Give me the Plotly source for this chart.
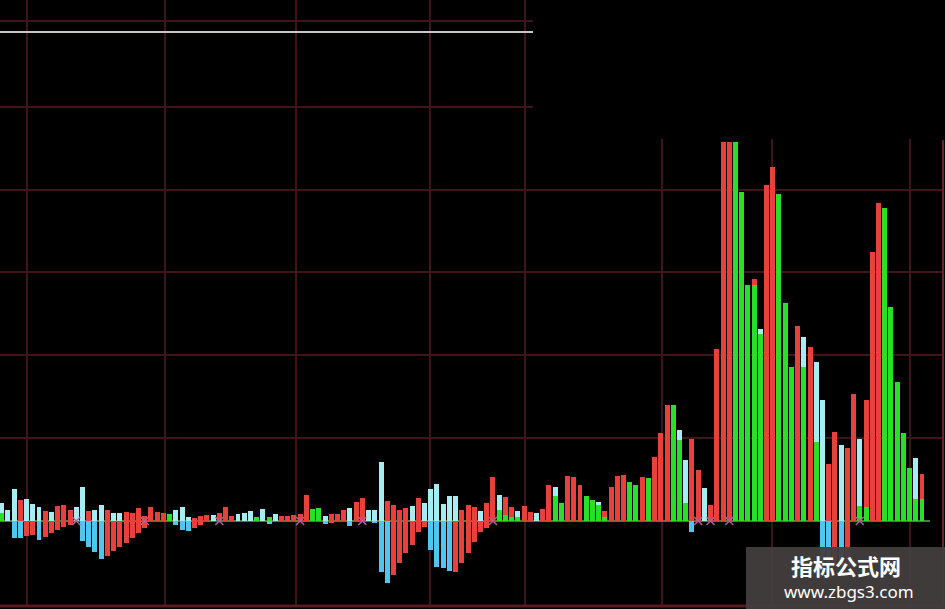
import plotly.graph_objects as go

# ---- data (bar heights, arbitrary units; 0 = none) ----
up_vals = [18, 11, 32, 21, 22, 17, 14, 10, 9, 15, 16, 11, 14, 34, 10, 11, 16, 11, 8, 8,
           9, 8, 13, 5, 14, 9, 8, 0, 11, 14, 4, 3, 5, 6, 6, 8, 14, 5, 7, 8,
           10, 0, 12, 0, 7, 5, 5, 6, 7, 26, 0, 0, 5, 7, 7, 11, 13, 19, 23, 11,
           11, 59, 20, 16, 11, 13, 15, 23, 18, 32, 37, 17, 25, 25, 11, 16, 14, 10, 18, 44,
           26, 24, 14, 10, 15, 9, 8, 12, 36, 34, 0, 45, 44, 36, 0, 0, 19, 10, 34, 45,
           46, 0, 0, 44, 0, 64, 88, 116, 0, 91, 61, 82, 51, 33, 16, 172, 379, 379, 0, 0,
           0, 242, 192, 336, 354, 0, 0, 0, 195, 184, 174, 159, 121, 57, 89, 76, 73, 127, 82, 121,
           269, 318, 0, 0, 0, 0, 0, 63, 47]
up_cyan = {0, 1, 2, 4, 5, 6, 8, 12, 13, 15, 16, 18, 19, 28, 29, 30, 34, 38, 39, 40, 42, 44,
           52, 56, 59, 60, 61, 66, 68, 69, 70, 71, 72, 73, 77, 80, 83, 86, 89, 96, 109, 110,
           113, 122, 129, 131, 132, 135, 138, 147}
green_vals = [8, 0, 0, 0, 0, 0, 0, 0, 0, 0, 0, 0, 0, 0, 0, 0, 0, 0, 0, 0,
              0, 0, 0, 0, 0, 0, 0, 7, 0, 0, 0, 0, 0, 0, 0, 0, 0, 0, 0, 0,
              0, 4, 0, 4, 0, 0, 0, 0, 0, 0, 12, 13, 0, 0, 0, 0, 0, 0, 0, 0,
              0, 0, 0, 0, 0, 0, 0, 0, 0, 0, 0, 0, 0, 0, 0, 0, 0, 0, 0, 0,
              11, 6, 4, 4, 0, 0, 0, 0, 0, 25, 18, 0, 0, 0, 25, 21, 16, 4, 0, 0,
              0, 39, 36, 0, 43, 0, 0, 0, 116, 81, 18, 0, 0, 0, 0, 0, 0, 0, 379, 329,
              236, 236, 187, 0, 0, 327, 218, 154, 0, 154, 0, 79, 0, 0, 0, 0, 0, 0, 15, 14,
              0, 0, 313, 214, 139, 88, 53, 22, 22]
down_vals = {2: 17, 3: 17, 4: 15, 5: 14, 6: 19, 7: 16, 8: 12, 9: 9, 10: 6, 11: 4,
             13: 20, 14: 26, 15: 31, 16: 38, 17: 35, 18: 30, 19: 26, 20: 22, 21: 17, 22: 12, 23: 7,
             28: 4, 29: 9, 30: 10, 31: 7, 32: 4, 43: 3, 52: 3, 53: 2, 56: 5, 60: 2,
             61: 51, 62: 62, 63: 54, 64: 42, 65: 32, 66: 24, 67: 11, 68: 6,
             69: 29, 70: 46, 71: 47, 72: 50, 73: 51, 74: 42, 75: 32, 76: 21, 77: 11, 78: 7,
             111: 11, 132: 45, 133: 45, 134: 45, 135: 45, 136: 45}
down_cyan = {2, 3, 6, 13, 14, 15, 16, 28, 29, 30, 43, 52, 56, 60, 61, 62, 69, 70, 71, 72,
             111, 132, 133, 135}
cross_idx = [12, 23, 35, 48, 58, 79, 112, 114, 117, 138]
hgrid_vals = [83, 166, 249, 331, 414, 500]

N = len(up_vals)
idx = list(range(N))

RED = "#e8403a"
CYAN_UP = "#a6ecf3"
CYAN_DN = "#4ec6f0"
GREEN = "#27e027"

up_colors = [CYAN_UP if i in up_cyan else RED for i in idx]
dn_y = [-down_vals.get(i, 0) for i in idx]
dn_colors = [CYAN_DN if i in down_cyan else RED for i in idx]

fig = go.Figure()
fig.add_bar(x=idx, y=up_vals, marker=dict(color=up_colors, line=dict(width=0)), width=0.8)
fig.add_bar(x=idx, y=green_vals, marker=dict(color=GREEN, line=dict(width=0)), width=0.8)
fig.add_bar(x=idx, y=dn_y, marker=dict(color=dn_colors, line=dict(width=0)), width=0.8)
fig.add_scatter(x=cross_idx, y=[0] * len(cross_idx), mode="markers",
                marker=dict(symbol="x-thin", size=8, line=dict(color="#b0609c", width=1.5)))

W, H = 945, 609
GRID = "#3e1519"
shapes = []
for v in hgrid_vals:
    shapes.append(dict(type="line", xref="paper", yref="y", x0=0, x1=943 / W, y0=v, y1=v,
                       line=dict(color=GRID, width=2), layer="below"))
for px in [27, 165, 296, 430, 525, 662, 772, 910]:
    shapes.append(dict(type="line", xref="paper", yref="paper", x0=px / W, x1=px / W,
                       y0=1 - 605 / H, y1=1, line=dict(color=GRID, width=2), layer="below"))
shapes.append(dict(type="line", xref="paper", yref="paper", x0=943 / W, x1=943 / W,
                   y0=0, y1=1 - 140 / H, line=dict(color="#6a2226", width=2), layer="below"))
shapes.append(dict(type="line", xref="paper", yref="paper", x0=0, x1=1,
                   y0=1 - 606 / H, y1=1 - 606 / H, line=dict(color="#5a1a1e", width=3), layer="below"))
shapes.append(dict(type="rect", xref="paper", yref="paper", x0=533 / W, x1=1,
                   y0=1 - 139 / H, y1=1, fillcolor="black", line=dict(width=0), layer="below"))
shapes.append(dict(type="line", xref="paper", yref="paper", x0=0, x1=533 / W,
                   y0=1 - 32 / H, y1=1 - 32 / H, line=dict(color="#c8c8c8", width=2), layer="below"))
shapes.append(dict(type="line", xref="paper", yref="y", x0=0, x1=930 / W, y0=0, y1=0,
                   line=dict(color="#6aa83a", width=1.5), layer="below"))
shapes.append(dict(type="rect", xref="paper", yref="paper", x0=746 / W, x1=1,
                   y0=0, y1=1 - 547 / H, fillcolor="rgba(66,62,62,0.95)", line=dict(width=0),
                   layer="above"))

fig.update_layout(
    width=W, height=H, margin=dict(l=0, r=0, t=0, b=0),
    paper_bgcolor="black", plot_bgcolor="black",
    barmode="overlay", showlegend=False, bargap=0,
    xaxis=dict(range=[-0.273, 151.7], visible=False, fixedrange=True),
    yaxis=dict(range=[-88, 521], visible=False, fixedrange=True),
    shapes=shapes,
    annotations=[
        dict(text="<b>指标公式网</b>", xref="paper", yref="paper", x=846 / W, y=1 - 565 / H,
             showarrow=False, font=dict(family="Noto Sans CJK SC", size=22, color="white"),
             xanchor="center", yanchor="middle"),
        dict(text="www.zbgs3.com", xref="paper", yref="paper", x=849 / W, y=1 - 591 / H,
             showarrow=False, font=dict(family="Noto Sans", size=17, color="white"),
             xanchor="center", yanchor="middle"),
    ],
)
fig.write_html("out.html", config={"displayModeBar": False},
               post_script="document.body.style.margin='0px';document.body.style.padding='0px';"
                           "document.body.style.overflow='hidden';document.body.style.background='black';")
